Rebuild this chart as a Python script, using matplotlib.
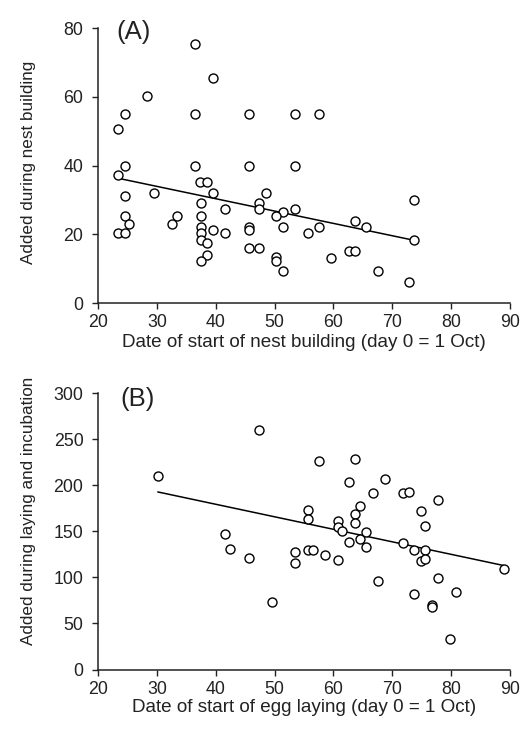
import matplotlib
matplotlib.use('Agg')
import matplotlib.pyplot as plt
import numpy as np

plt.rcParams['font.family'] = ['Liberation Sans', 'DejaVu Sans']

# Panel A: nest building
nest_day = [36.4, 39.5, 28.4, 24.5, 36.4, 45.6, 53.5, 57.6, 23.4, 24.5,
            36.4, 45.6, 53.5, 23.4, 37.4, 38.6, 24.5, 29.5, 39.5, 48.5,
            37.5, 47.4, 41.6, 47.4, 51.5, 53.5, 50.3, 24.5, 33.4, 32.5,
            25.3, 37.5, 37.5, 45.6, 51.5, 23.4, 24.5, 37.5, 39.5, 41.6,
            45.6, 55.6, 37.5, 38.6, 45.6, 47.4, 38.6, 37.5, 50.3, 50.3,
            51.5, 57.6, 63.7, 65.6, 73.6, 73.6, 62.6, 63.7, 59.5, 67.6,
            72.8]
nest_added = [75.3, 65.5, 60.3, 55.0, 55.0, 55.0, 55.0, 55.0, 50.5, 40.0,
              40.0, 40.0, 40.0, 37.2, 35.3, 35.3, 31.1, 32.0, 32.0, 32.0,
              29.2, 29.2, 27.3, 27.3, 26.4, 27.3, 25.3, 25.3, 25.3, 23.1,
              23.1, 25.3, 22.2, 22.2, 22.2, 20.3, 20.3, 20.3, 21.2, 20.3,
              21.2, 20.3, 18.3, 17.4, 15.9, 15.9, 14.0, 12.2, 13.3, 12.2,
              9.4, 22.2, 23.9, 22.0, 30.0, 18.3, 15.0, 15.0, 13.2, 9.4,
              6.0]
nest_fit = [44.7, -0.359]  # intercept, slope

# Panel B: laying and incubation
lay_day = [47.4, 30.2, 41.6, 42.5, 45.6, 49.6, 53.5, 53.5, 55.6, 55.6,
           55.6, 56.6, 57.6, 58.5, 60.7, 60.7, 60.7, 61.5, 62.6, 63.7,
           62.6, 63.7, 63.7, 64.5, 64.5, 65.6, 65.6, 67.6, 66.8, 68.7,
           71.8, 72.9, 71.8, 73.6, 73.6, 74.8, 75.5, 75.5, 74.8, 75.5,
           77.8, 77.8, 76.7, 76.7, 80.8, 79.8, 88.9]
lay_added = [260.2, 210.5, 147.2, 131.2, 120.8, 73.7, 127.3, 116.0, 173.3, 163.0,
             129.8, 129.8, 226.8, 124.4, 119.0, 161.3, 155.0, 150.8, 203.7, 228.3,
             138.8, 168.9, 159.5, 177.6, 141.8, 149.4, 133.4, 96.5, 191.4, 207.3,
             191.4, 192.8, 137.1, 129.8, 82.0, 171.8, 156.2, 129.8, 117.5, 120.4,
             184.5, 99.4, 70.0, 68.3, 83.8, 32.8, 108.8]
lay_fit = [233.9, -1.36]

fig = plt.figure(figsize=(5.25, 7.33), dpi=100)
ax1 = fig.add_axes([0.1867, 0.5866, 0.7848, 0.3752])
ax2 = fig.add_axes([0.1867, 0.0866, 0.7848, 0.3768])


def draw(ax, x, y, fit, ymax, yticks, xlabel, ylabel, tag, tagpos, xlab_y, ylab_y):
    ax.scatter(x, y, s=42, facecolors='white', edgecolors='black',
               linewidths=1.0, clip_on=False, zorder=3)
    xs = np.array([min(x), max(x)])
    ax.plot(xs, fit[0] + fit[1] * xs, color='black', lw=1.1, zorder=2)
    ax.set_xlim(20, 90)
    ax.set_ylim(0, ymax)
    ax.set_xticks(range(20, 91, 10))
    ax.set_yticks(yticks)
    for s in ['top', 'right']:
        ax.spines[s].set_visible(False)
    for s in ['left', 'bottom']:
        ax.spines[s].set_linewidth(1.1)
        ax.spines[s].set_color('#222222')
    ax.tick_params(labelsize=12.8, length=4.5, width=1.0, colors='#222222')
    ax.tick_params(axis='x', pad=3.5)
    ax.tick_params(axis='y', pad=6)
    ax.set_xlabel(xlabel, fontsize=13.6, color='#222222')
    ax.set_ylabel(ylabel, fontsize=12.3, color='#222222')
    ax.xaxis.set_label_coords(0.5, xlab_y)
    ax.yaxis.set_label_coords(-0.15, ylab_y)
    ax.text(tagpos[0], tagpos[1], tag, transform=ax.transAxes, fontsize=18.5,
            va='center', ha='left', color='#222222')


draw(ax1, nest_day, nest_added, nest_fit, 80, range(0, 81, 20),
     'Date of start of nest building (day 0 = 1 Oct)',
     'Added during nest building', '(A)', (0.044, 0.987), -0.112, 0.51)
draw(ax2, lay_day, lay_added, lay_fit, 300, range(0, 301, 50),
     'Date of start of egg laying (day 0 = 1 Oct)',
     'Added during laying and incubation', '(B)', (0.055, 0.979), -0.106, 0.574)

fig.savefig('out.png', dpi=100)
